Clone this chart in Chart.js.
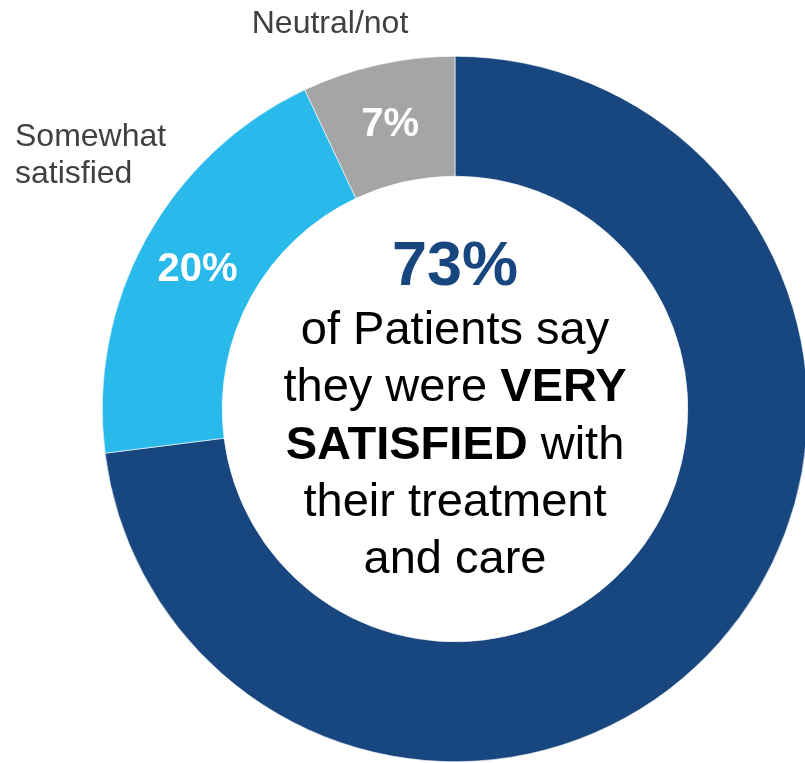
<!DOCTYPE html>
<html>
<head>
<meta charset="utf-8">
<script src="https://cdn.jsdelivr.net/npm/chart.js@4/dist/chart.umd.min.js"></script>
<style>
  html, body { margin: 0; padding: 0; background: #fff; overflow: hidden; }
  #wrap { position: relative; width: 810px; height: 763px; }
</style>
</head>
<body>
<div id="wrap"><canvas id="donut" width="810" height="763"></canvas></div>
<script>
const categories = ['Very satisfied', 'Somewhat satisfied', 'Neutral/not'];
const shares = [73, 20, 7];
const colors = ['#184780', '#29b9ea', '#a5a5a5'];

// outside labels, one array of lines per slice (none for the big slice)
const outsideLines = [[], ['Somewhat', 'satisfied'], ['Neutral/not']];

// text in the hole: each line is a list of [text, bold] runs
const captionLines = [
  [['of Patients say', false]],
  [['they were ', false], ['VERY', true]],
  [['SATISFIED', true], [' with', false]],
  [['their treatment', false]],
  [['and care', false]]
];

const FONT = '"Liberation Sans", Arial, Helvetica, sans-serif';
const pct = v => v + '%';

const sliceLabels = {
  id: 'sliceLabels',
  afterDatasetsDraw(chart) {
    const ctx = chart.ctx;
    const arcs = chart.getDatasetMeta(0).data;
    ctx.save();
    ctx.textAlign = 'center';
    ctx.textBaseline = 'middle';
    ctx.fillStyle = '#fff';
    ctx.font = `bold 40px ${FONT}`;
    arcs.forEach((arc, i) => {
      if (i === 0) return;
      const p = arc.getCenterPoint();
      ctx.fillText(pct(shares[i]), p.x - 1, p.y + 2);
    });

    // category names outside the ring
    ctx.fillStyle = '#404040';
    ctx.font = `32px ${FONT}`;
    ctx.textBaseline = 'alphabetic';
    ctx.textAlign = 'center';
    outsideLines[2].forEach((t, k) => ctx.fillText(t, 330, 33 + k * 37));
    ctx.textAlign = 'left';
    outsideLines[1].forEach((t, k) => ctx.fillText(t, 15, 146 + k * 37));

    // headline + caption in the hole
    const cx = arcs[0].x;
    ctx.textAlign = 'left';
    ctx.fillStyle = colors[0];
    ctx.font = `bold 63px ${FONT}`;
    const head = pct(shares[0]);
    ctx.fillText(head, cx - ctx.measureText(head).width / 2, 285);

    ctx.fillStyle = '#000';
    captionLines.forEach((runs, k) => {
      const y = 344 + k * 57.3;
      let w = 0;
      runs.forEach(([t, b]) => { ctx.font = `${b ? 'bold ' : ''}47px ${FONT}`; w += ctx.measureText(t).width; });
      let x = cx - w / 2;
      runs.forEach(([t, b]) => {
        ctx.font = `${b ? 'bold ' : ''}47px ${FONT}`;
        ctx.fillText(t, x, y);
        x += ctx.measureText(t).width;
      });
    });
    ctx.restore();
  }
};

new Chart(document.getElementById('donut'), {
  type: 'doughnut',
  data: {
    labels: categories,
    datasets: [{
      data: shares,
      backgroundColor: colors,
      borderColor: '#fff',
      borderWidth: 0.6
    }]
  },
  options: {
    responsive: false,
    animation: false,
    cutout: '66%',
    layout: { padding: { left: 102, right: 2, top: 56, bottom: 1 } },
    plugins: { legend: { display: false }, tooltip: { enabled: false } }
  },
  plugins: [sliceLabels]
});
</script>
</body>
</html>
